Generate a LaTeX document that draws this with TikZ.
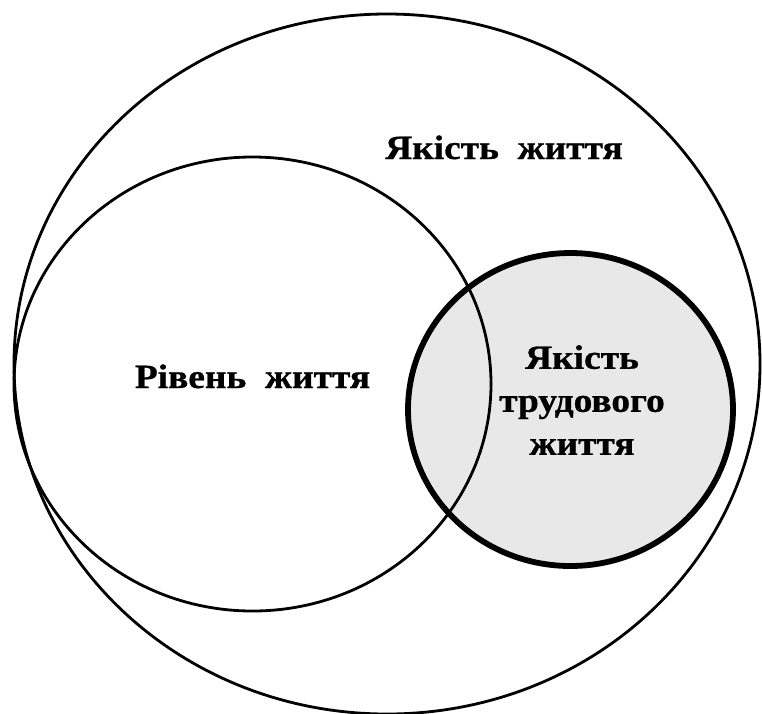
\documentclass[tikz,border=0pt]{standalone}
\usepackage{fontspec}
\setmainfont{Liberation Serif}[BoldFont={Liberation Serif Bold}, FakeStretch=1.1, BoldFeatures={FakeBold=0.8}]
\usetikzlibrary{shapes.geometric}
\definecolor{workgray}{HTML}{E8E8E8}

\begin{document}
\begin{tikzpicture}[
    x=1pt, y=-1pt,
    set/.style={ellipse, draw, line width=2.8pt, inner sep=0pt},
    settext/.style={font=\fontsize{34}{43}\selectfont\bfseries, align=center, inner sep=0pt}
]
\useasboundingbox (0,0) rectangle (762,713);

% Outer set
\node[set, minimum width=746pt, minimum height=700pt] (quality) at (387,364) {};

% Working life (fill first)
\node[ellipse, fill=workgray, minimum width=325pt, minimum height=313pt, inner sep=0pt] (workfill) at (570.5,409.5) {};

% Standard of living
\node[set, minimum width=477pt, minimum height=454pt] (standard) at (252.5,384) {};

% Working life border
\node[set, line width=5.8pt, minimum width=325pt, minimum height=313pt] (work) at (570.5,409.5) {};

% Labels
\node[settext, anchor=base] (qualitytext) at (504,159) {Якість\hspace{0.55em}життя};
\node[settext, anchor=base] (standardtext) at (252.5,388) {Рівень\hspace{0.55em}життя};
\node[settext] (worktext) at (582,400) {Якість\\трудового\\життя};

\end{tikzpicture}
\end{document}
